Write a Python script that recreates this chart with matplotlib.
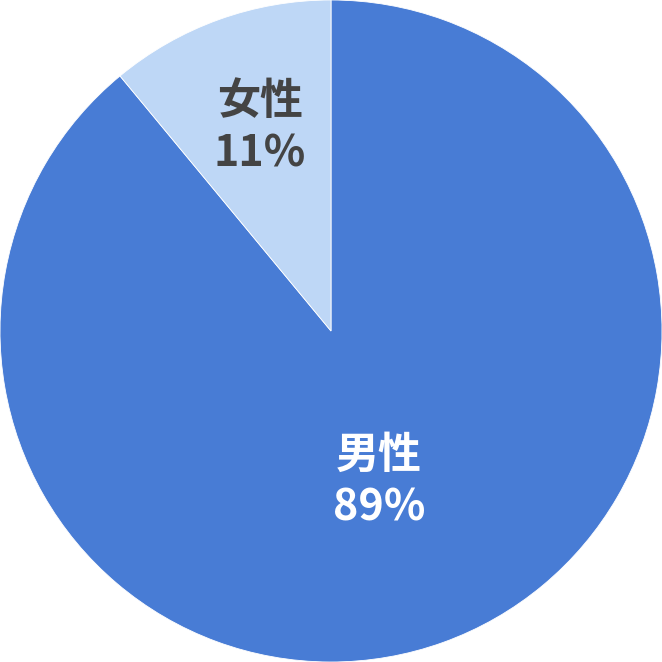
import numpy as np
import matplotlib.pyplot as plt

plt.rcParams['font.family'] = ['Noto Sans CJK JP', 'DejaVu Sans']

labels = ['男性', '女性']
values = [89, 11]
colors = ['#487CD5', '#BED7F6']
text_colors = ['#FFFFFF', '#444444']
text_weights = ['semibold', 'bold']
label_dist = [0.476, 0.652]
label_shift = [-2.0, -0.6]  # degrees

fig = plt.figure(figsize=(6.62, 6.62), dpi=100)
ax = fig.add_axes([0, 0, 1, 1])

wedges, _ = ax.pie(values, colors=colors, startangle=90, counterclock=False,
                   radius=1.0, wedgeprops={'edgecolor': 'white', 'linewidth': 0.6})

for w, lab, v, tc, fw, d, s in zip(wedges, labels, values, text_colors,
                                   text_weights, label_dist, label_shift):
    ang = np.deg2rad((w.theta1 + w.theta2) / 2 + s)
    ax.text(d * np.cos(ang), d * np.sin(ang), f'{lab}\n{v}%', ha='center', va='center',
            fontsize=31, fontweight=fw, color=tc, linespacing=1.25)

ax.set_xlim(-1, 1)
ax.set_ylim(-1, 1)
ax.set_aspect('equal')
ax.axis('off')

fig.savefig('out.png', dpi=100)
